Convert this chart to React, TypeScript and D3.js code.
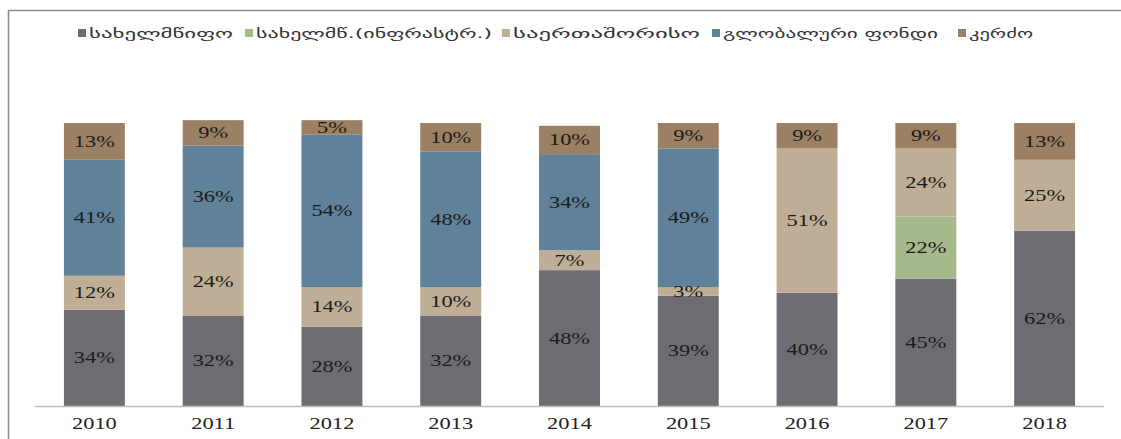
import React from "react";
import * as d3 from "d3";

const years = ["2010", "2011", "2012", "2013", "2014", "2015", "2016", "2017", "2018"];
const state = [34, 32, 28, 32, 48, 39, 40, 45, 62];
const stateInfra = [0, 0, 0, 0, 0, 0, 0, 22, 0];
const international = [12, 24, 14, 10, 7, 3, 51, 24, 25];
const globalFund = [41, 36, 54, 48, 34, 49, 0, 0, 0];
const privateShare = [13, 9, 5, 10, 10, 9, 9, 9, 13];

const seriesNames = ["სახელმწიფო", "სახელმწ.(ინფრასტრ.)", "საერთაშორისო", "გლობალური ფონდი", "კერძო"];
const seriesKeys = ["state", "stateInfra", "international", "globalFund", "private"];
const colors = ["#6e6d73", "#a6b98a", "#bfae96", "#5f8199", "#9b8063"];

// legend placement
const legendX = [78, 245, 502, 712, 958];
const legendW = [145, 237, 188, 216, 65];

const W = 1121;
const H = 439;

const App = () => {
  const table = years.map((y, i) => ({
    year: y,
    state: state[i],
    stateInfra: stateInfra[i],
    international: international[i],
    globalFund: globalFund[i],
    private: privateShare[i],
  }));

  const stacked = d3.stack<any>().keys(seriesKeys)(table);

  const x = d3
    .scaleBand()
    .domain(years)
    .range([35, 1104])
    .paddingInner(0.487)
    .paddingOuter(0.2435);
  const y = d3.scaleLinear().domain([0, 100]).range([406, 123]);

  const serif = "'Liberation Serif', 'Times New Roman', serif";
  const geo = "'DejaVu Sans', sans-serif";

  return (
    <svg
      width={W}
      height={H}
      style={{ position: "absolute", left: 0, top: 0, background: "#fff" }}
    >
      {/* frame */}
      <line x1={8} x2={W} y1={10.5} y2={10.5} stroke="#8a8a8a" strokeWidth={1.5} />
      <line x1={8.5} x2={8.5} y1={10} y2={H} stroke="#8a8a8a" strokeWidth={1.5} />

      {/* legend */}
      {seriesNames.map((name, i) => (
        <g key={name}>
          <rect x={legendX[i]} y={29} width={8} height={8} fill={colors[i]} />
          <text
            x={legendX[i] + 11}
            y={38}
            fontFamily={geo}
            fontSize={13}
            fill="#333"
            textLength={legendW[i] - 1}
            lengthAdjust="spacingAndGlyphs"
          >
            {name}
          </text>
        </g>
      ))}

      {/* bars */}
      {stacked.map((layer, si) => (
        <g key={layer.key} fill={colors[si]}>
          {layer.map((d, i) =>
            d[1] - d[0] > 0 ? (
              <rect
                key={i}
                x={x(years[i])}
                width={x.bandwidth()}
                y={y(d[1])}
                height={y(d[0]) - y(d[1])}
              />
            ) : null
          )}
        </g>
      ))}

      {/* value labels */}
      {stacked.map((layer, si) =>
        layer.map((d, i) => {
          const v = d[1] - d[0];
          if (v <= 0) return null;
          const cx = (x(years[i]) as number) + x.bandwidth() / 2;
          const cy = (y(d[0]) + y(d[1])) / 2;
          return (
            <text
              key={`${si}-${i}`}
              transform={`translate(${cx},${cy + 5.5}) scale(1.4,1)`}
              textAnchor="middle"
              fontFamily={serif}
              fontSize={16}
              fill="#1b1b1b"
            >
              {v}%
            </text>
          );
        })
      )}

      {/* x axis */}
      <line x1={35} x2={1104} y1={406.5} y2={406.5} stroke="#bdbdbd" strokeWidth={1.5} />
      {years.map((yr) => (
        <text
          key={yr}
          transform={`translate(${(x(yr) as number) + x.bandwidth() / 2},${429}) scale(1.4,1)`}
          textAnchor="middle"
          fontFamily={serif}
          fontSize={16}
          fill="#222"
        >
          {yr}
        </text>
      ))}
    </svg>
  );
};

export default App;
